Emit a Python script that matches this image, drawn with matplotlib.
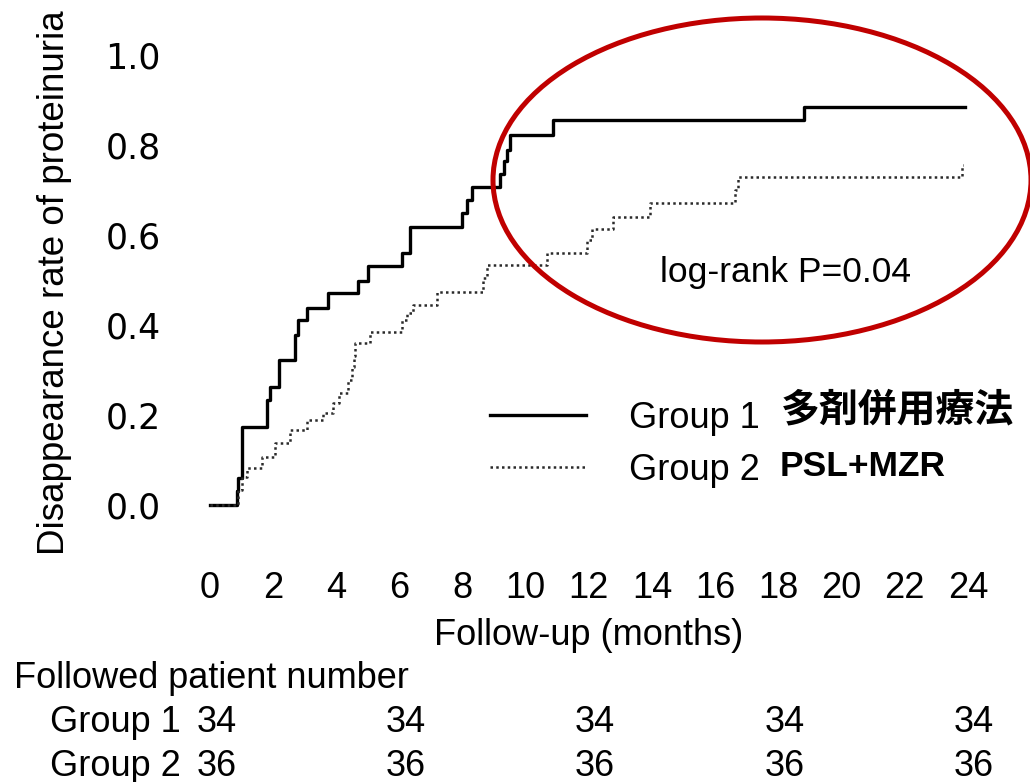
import matplotlib
matplotlib.use("Agg")
import matplotlib.pyplot as plt
from matplotlib.patches import Ellipse
from matplotlib.transforms import blended_transform_factory

# ---------------- data ----------------
# Group 1 (solid)  : time in months, cumulative disappearance rate
t_group1 = [0, 0.85, 0.9, 1.0, 1.8, 1.9, 2.2, 2.7, 2.8, 3.06, 3.74, 4.7, 5.0,
            6.07, 6.35, 7.97, 8.13, 8.29, 9.2, 9.3, 9.4, 9.5, 10.87, 18.8, 23.9]
v_group1 = [0, 0.03, 0.06, 0.174, 0.233, 0.263, 0.322, 0.378, 0.411, 0.437, 0.471, 0.498, 0.530,
            0.56, 0.618, 0.648, 0.678, 0.706, 0.735, 0.765, 0.79, 0.822, 0.856, 0.885, 0.885]

# Group 2 (dotted)
t_group2 = [0, 0.9, 1.0, 1.16, 1.64, 2.06, 2.53, 3.06, 3.58, 3.9, 4.1, 4.37, 4.5, 4.55, 4.59,
            5.07, 6.07, 6.25, 6.44, 7.2, 8.65, 8.76, 10.66, 11.93, 12.1, 12.77, 13.93,
            16.62, 16.72, 23.8, 23.85]
v_group2 = [0, 0.033, 0.063, 0.082, 0.107, 0.137, 0.167, 0.189, 0.204, 0.226, 0.248, 0.278, 0.307, 0.33, 0.36,
            0.385, 0.411, 0.426, 0.444, 0.474, 0.504, 0.533, 0.56, 0.589, 0.613, 0.641, 0.67,
            0.70, 0.73, 0.756, 0.756]

x_ticks = list(range(0, 25, 2))
y_ticks = [0.0, 0.2, 0.4, 0.6, 0.8, 1.0]

risk_months = [0, 6, 12, 18, 24]
risk_group1 = [34, 34, 34, 34, 34]
risk_group2 = [36, 36, 36, 36, 36]

labels = ["Group 1", "Group 2"]
labels_jp = ["多剤併用療法", "PSL+MZR"]

sans = "Liberation Sans"
W, H = 1030, 782

fig = plt.figure(figsize=(10.30, 7.82), dpi=100)
ax = fig.add_axes([0.1885, 0.2967, 0.7665, 0.6905])

ax.step(t_group1, v_group1, where="post", color="black", lw=2.4, label=labels[0])
ax.step(t_group2, v_group2, where="post", color="#2a2a2a", lw=1.8,
        linestyle=(0, (1, 1.3)), label=labels[1])

ax.set_xlim(-0.5, 24.5)
ax.set_ylim(-0.1, 1.1)
for s in ax.spines.values():
    s.set_visible(False)

ax.set_xticks(x_ticks)
ax.set_xticklabels([str(x) for x in x_ticks], fontfamily=sans, fontsize=26)
ax.set_yticks(y_ticks)
ax.set_yticklabels([f"{y:.1f}" for y in y_ticks], fontfamily="DejaVu Sans", fontsize=25)
ax.tick_params(axis="both", length=0)
ax.tick_params(axis="x", pad=15)
ax.tick_params(axis="y", pad=24)

ax.set_xlabel("Follow-up (months)", fontfamily=sans, fontsize=26, labelpad=9)
fig.text(55 / W, 1 - 283 / H, "Disappearance rate of proteinuria", rotation=90,
         ha="center", va="center", fontfamily=sans, fontsize=26.5)

# legend
leg = fig.legend(*ax.get_legend_handles_labels(), loc="upper left",
                 bbox_to_anchor=(490 / W, 1 - 401 / H), frameon=False, borderpad=0,
                 borderaxespad=0, prop={"family": sans, "size": 26}, handlelength=2.65,
                 handletextpad=1.2, labelspacing=0.46)

# Japanese / drug names next to legend
fig.text(781 / W, 1 - 410 / H, labels_jp[0], ha="left", va="center",
         fontfamily=["Noto Sans CJK JP", "DejaVu Sans"], fontweight="bold", fontsize=28)
fig.text(780 / W, 1 - 466 / H, labels_jp[1], ha="left", va="center",
         fontfamily=sans, fontweight="bold", fontsize=25.5)

# log-rank annotation and red ellipse
fig.text(786 / W, 1 - 273 / H, "log-rank P=0.04", ha="center", va="center",
         fontfamily=sans, fontsize=25.5)
ell = Ellipse((762 / W, 1 - 180 / H), 538 / W, 324 / H,
              transform=fig.transFigure, fill=False, edgecolor="#C00000", lw=3.6)
fig.add_artist(ell)

# number at risk table
fig.text(14 / W, 1 - 678 / H, "Followed patient number", ha="left", va="center",
         fontfamily=sans, fontsize=26)
trans = blended_transform_factory(ax.transData, fig.transFigure)
for row_y, name, counts in [(1 - 722 / H, labels[0], risk_group1),
                            (1 - 766 / H, labels[1], risk_group2)]:
    fig.text(50 / W, row_y, name, ha="left", va="center", fontfamily=sans, fontsize=26)
    for m, c in zip(risk_months, counts):
        ax.text(m + 0.2, row_y, str(c), transform=trans, ha="center", va="center",
                fontfamily=sans, fontsize=26, clip_on=False)

fig.savefig("out.png", dpi=100)
